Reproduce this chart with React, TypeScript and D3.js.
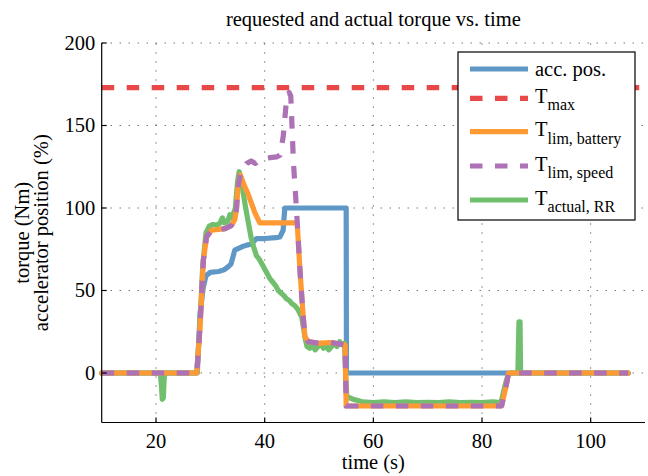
import React from "react";
import * as d3 from "d3";

// chart values
const chartTitle = "requested and actual torque vs. time";
const xLabel = "time (s)";
const yLabels = ["torque (Nm)", "accelerator position (%)"];
const xTicks = [20, 40, 60, 80, 100];
const yTicks = [0, 50, 100, 150, 200];
const tMax = 173;

// [time (s), value]
const accPos: [number, number][] = [
  [10, 0], [27.6, 0], [28.1, 36], [28.7, 52], [29.2, 59], [30.0, 61], [31.5, 61.5],
  [32.5, 62.5], [33.3, 64.5], [33.8, 66], [34.5, 74.5], [35.8, 76.5], [36.7, 77.5],
  [37.5, 78], [38.5, 81.5], [40, 81.5], [42.0, 82], [42.8, 82.5], [43.4, 86.5],
  [43.7, 100], [55.0, 100], [55.05, 0], [106.9, 0],
];

const tMaxLine: [number, number][] = [[10, tMax], [110, tMax]];

const tLimBattery: [number, number][] = [
  [10, 0], [27.5, 0], [28.1, 28], [28.7, 68], [29.3, 82.5], [30.2, 86.5], [31.5, 87],
  [32.7, 87.5], [33.9, 89.5], [34.5, 93], [34.8, 99], [35.1, 113], [35.5, 120],
  [36.2, 114], [37.0, 108], [38.2, 97], [39.1, 91], [45.7, 91], [46.0, 90],
  [46.5, 62], [47.0, 38], [47.4, 22], [48.0, 19], [50, 18], [52, 18.5], [54, 17.5],
  [54.8, 17], [55.0, -20], [83.6, -20], [84.3, -10], [84.9, 0], [106.9, 0],
];

const tLimSpeed: [number, number][] = [
  [10, 0], [27.5, 0], [28.1, 28], [28.7, 68], [29.3, 82.5], [30.2, 86.5], [31.5, 87],
  [32.7, 87.5], [33.9, 89.5], [34.5, 93], [34.8, 99], [35.1, 113], [35.5, 120],
  [36.0, 124], [36.7, 127], [37.5, 128.5], [38.3, 127], [39.1, 129.5], [40.0, 130],
  [41.0, 130.5], [42.2, 131], [42.8, 132], [43.4, 143], [44.0, 165], [44.5, 170],
  [44.8, 168], [45.0, 152], [45.3, 127], [45.7, 107], [46.0, 91], [46.5, 62],
  [47.0, 38], [47.4, 22], [48.0, 19], [50, 18], [52, 18.5], [54, 17.5], [54.8, 17],
  [55.0, -20], [83.6, -20], [84.3, -10], [84.9, 0], [106.9, 0],
];

const tActualRR: [number, number][] = [
  [10, 0], [20.8, 0], [21.0, -8], [21.15, -16], [21.35, -15], [21.5, -3], [21.6, 0],
  [27.5, 0], [28.0, 25], [28.6, 65], [29.2, 85], [29.8, 89], [30.5, 90], [31.2, 89.5],
  [31.8, 91], [32.2, 94], [32.6, 91], [33.2, 92], [33.6, 96], [34.0, 94], [34.6, 100],
  [35.0, 116], [35.3, 122], [35.6, 118], [36.0, 110], [36.5, 100], [37.0, 91],
  [37.5, 82], [38.0, 76], [38.5, 71], [39.0, 69], [39.5, 66], [40.0, 63], [40.5, 60],
  [41.0, 57], [41.5, 55], [42.0, 53], [42.5, 50], [43.0, 48.5], [43.5, 47], [44.0, 45],
  [44.5, 44], [45.0, 42], [45.5, 41], [46.0, 39], [46.8, 34], [47.2, 26], [47.5, 20],
  [47.8, 16], [48.3, 15], [48.8, 17], [49.3, 14], [49.8, 16], [50.3, 18], [50.8, 15],
  [51.3, 17], [51.8, 14], [52.3, 16], [52.8, 18], [53.3, 16], [53.8, 19], [54.3, 17],
  [54.7, 18], [54.9, 0], [55.1, -14], [55.6, -15], [56.3, -16], [57.0, -16.5],
  [58, -17.5], [60, -18], [62, -17.5], [64, -18], [66, -17.5], [68, -18], [70, -17.8],
  [72, -18], [74, -17.5], [76, -18], [78, -17.8], [80, -18], [82, -17.5], [83.5, -18],
  [84.2, -8], [84.8, -1], [85.5, 0], [86.6, 0], [86.8, 31], [87.0, 31], [87.1, 0],
  [106.9, 0],
];

const blue = "#5f98c6";
const red = "#e94849";
const orange = "#ff9933";
const purple = "#ad71b5";
const green = "#71bf6e";

const font = "Liberation Serif, DejaVu Serif, serif";

const W = 648;
const H = 476;
const left = 101.7;
const right = 645;
const top = 43;
const bottom = 422.5;

export default function App() {
  const x = d3.scaleLinear().domain([10, 110]).range([left, right]);
  const y = d3.scaleLinear().domain([-30, 200]).range([bottom, top]);
  const line = d3
    .line<[number, number]>()
    .x((d) => x(d[0]))
    .y((d) => y(d[1]));

  const lw = 5.2;
  const ts = { fontFamily: font };

  // legend entries
  const legend = [
    { name: "acc. pos.", sub: "", color: blue, dash: "", ly: 69, ty: 76 },
    { name: "T", sub: "max", color: red, dash: "12.5,12.5", ly: 98.3, ty: 102.8 },
    { name: "T", sub: "lim, battery", color: orange, dash: "", ly: 131.7, ty: 136.2 },
    { name: "T", sub: "lim, speed", color: purple, dash: "12.5,12.5", ly: 166, ty: 170.5 },
    { name: "T", sub: "actual, RR", color: green, dash: "", ly: 200, ty: 204.5 },
  ];

  return (
    <svg
      width={W}
      height={H}
      style={{ position: "absolute", left: 0, top: 0, background: "#fff", fontFamily: font }}
    >
      <rect width={W} height={H} fill="#fff" />

      {/* grid */}
      <g stroke="#333" strokeWidth={1} strokeDasharray="1,8">
        {xTicks.map((t) => (
          <line key={"gx" + t} x1={x(t)} x2={x(t)} y1={bottom} y2={top} />
        ))}
        {yTicks.map((t) => (
          <line key={"gy" + t} x1={left} x2={right} y1={y(t)} y2={y(t)} />
        ))}
      </g>

      {/* series */}
      <g fill="none" strokeLinejoin="round">
        <path d={line(accPos) || ""} stroke={blue} strokeWidth={lw} strokeLinecap="round" />
        <path d={line(tMaxLine) || ""} stroke={red} strokeWidth={lw} strokeDasharray="12.5,12.5" />
        <path d={line(tActualRR) || ""} stroke={green} strokeWidth={lw} strokeLinecap="round" />
        <path d={line(tLimBattery) || ""} stroke={orange} strokeWidth={lw} strokeLinecap="round" />
        <path d={line(tLimSpeed) || ""} stroke={purple} strokeWidth={lw} strokeDasharray="12.5,12.5" />
      </g>

      {/* axes */}
      <g stroke="#000" strokeWidth={1.2}>
        <line x1={left} x2={left} y1={top} y2={bottom} />
        <line x1={left} x2={right} y1={bottom} y2={bottom} />
        {xTicks.map((t) => (
          <line key={"tx" + t} x1={x(t)} x2={x(t)} y1={bottom} y2={bottom - 5} />
        ))}
        {yTicks.map((t) => (
          <line key={"ty" + t} x1={left} x2={left + 5} y1={y(t)} y2={y(t)} />
        ))}
      </g>
      <g fontSize={20.5} fill="#000">
        {xTicks.map((t) => (
          <text key={"lx" + t} x={x(t)} y={448.3} textAnchor="middle" style={ts}>
            {t}
          </text>
        ))}
        {yTicks.map((t) => (
          <text key={"ly" + t} x={left - 6.5} y={y(t) + 6.8} textAnchor="end" style={ts}>
            {t}
          </text>
        ))}
        <text x={(left + right) / 2} y={26} textAnchor="middle" style={ts}>
          {chartTitle}
        </text>
        <text x={(left + right) / 2} y={469} textAnchor="middle" style={ts}>
          {xLabel}
        </text>
        {yLabels.map((s, i) => (
          <text
            key={s}
            transform={`translate(${29 + i * 19},${(top + bottom) / 2}) rotate(-90)`}
            textAnchor="middle"
            style={ts}
          >
            {s}
          </text>
        ))}
      </g>

      {/* legend */}
      <rect x={458} y={52} width={177} height={168} fill="#fff" stroke="#000" strokeWidth={1.2} />
      {legend.map((e) => (
        <g key={e.sub + e.name}>
          <line
            x1={470}
            x2={528}
            y1={e.ly}
            y2={e.ly}
            stroke={e.color}
            strokeWidth={lw}
            strokeDasharray={e.dash || undefined}
          />
          <text x={535} y={e.ty} fontSize={20.5} style={ts}>
            {e.name}
            {e.sub && (
              <tspan fontSize={16} dy={7.3}>
                {e.sub}
              </tspan>
            )}
          </text>
        </g>
      ))}
    </svg>
  );
}
